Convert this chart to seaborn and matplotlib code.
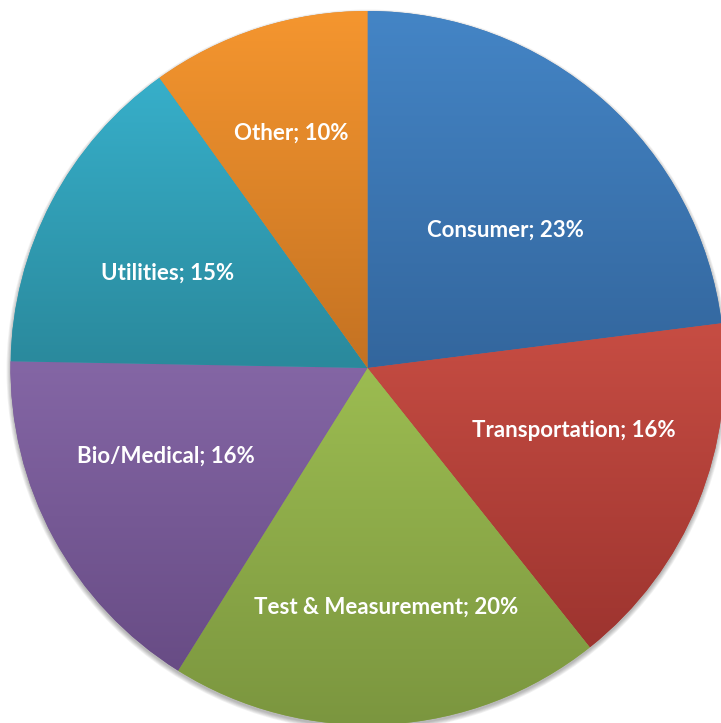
import numpy as np
import pandas as pd
import seaborn as sns
import matplotlib.pyplot as plt
from matplotlib.patches import Circle
from matplotlib.colors import to_rgb

# share of each market segment (%), clockwise from 12 o'clock
segments = ["Consumer", "Transportation", "Test & Measurement", "Bio/Medical", "Utilities", "Other"]
shares = [23.0, 16.3, 19.6, 16.4, 14.8, 9.9]

# gradient colours (top, bottom) of each slice
top_colors = ["#4485C6", "#C74D43", "#9CBC51", "#8466A5", "#37AFCA", "#F5962F"]
bottom_colors = ["#33669D", "#9D342F", "#7B963F", "#684C85", "#2A899C", "#C47222"]

data = pd.DataFrame({"segment": segments, "share": shares})

sns.set_theme(style="white")
plt.rcParams["font.family"] = ["Lato", "DejaVu Sans"]

W, H = 721, 723
cx, cy, R = 367.5, 368, 357  # pixel centre / radius of the pie

fig = plt.figure(figsize=(W / 100, H / 100), dpi=100)
ax = fig.add_axes([0, 0, 1, 1])

# soft shadow under the pie
for k in range(6):
    ax.add_patch(Circle((0, -2.5 / R), 1 + (k * 0.8) / R, color="#000000",
                        alpha=0.05, lw=0, zorder=0))

mid = [tuple((np.array(to_rgb(a)) + np.array(to_rgb(b))) / 2)
       for a, b in zip(top_colors, bottom_colors)]
wedges, _ = ax.pie(data["share"], startangle=90, counterclock=False,
                   colors=mid, radius=1, center=(0, 0), frame=True,
                   wedgeprops=dict(linewidth=0, antialiased=True))
ax.set_xlim(-cx / R, (W - cx) / R)
ax.set_ylim(-(H - cy) / R, cy / R)
ax.set_aspect("equal")
ax.axis("off")

# vertical gradient fill in each slice
for w, c0, c1 in zip(wedges, top_colors, bottom_colors):
    bb = w.get_path().get_extents()
    t = np.linspace(0, 1, 256)[:, None, None]
    grad = (1 - t) * np.array(to_rgb(c0)) + t * np.array(to_rgb(c1))
    im = ax.imshow(grad, extent=(bb.x0, bb.x1, bb.y0, bb.y1), origin="upper",
                   aspect="auto", interpolation="bilinear", zorder=2)
    im.set_clip_path(w)

# data labels (radius and angle nudge per slice)
label_r = [0.546, 0.605, 0.671, 0.616, 0.619, 0.692]
label_dang = [-3.5, 5.2, 1.2, -4.8, 2.3, 0.2]
total = sum(shares)
start = 0
for name, val, r, da in zip(segments, shares, label_r, label_dang):
    mid_frac = (start + val / 2) / total
    ang = np.deg2rad(90 - mid_frac * 360 + da)
    ax.text(r * np.cos(ang), r * np.sin(ang), f"{name}; {round(val)}%",
            ha="center", va="center", color="white", fontsize=16,
            fontweight="bold", zorder=5)
    start += val

fig.savefig("out.png", dpi=100)
